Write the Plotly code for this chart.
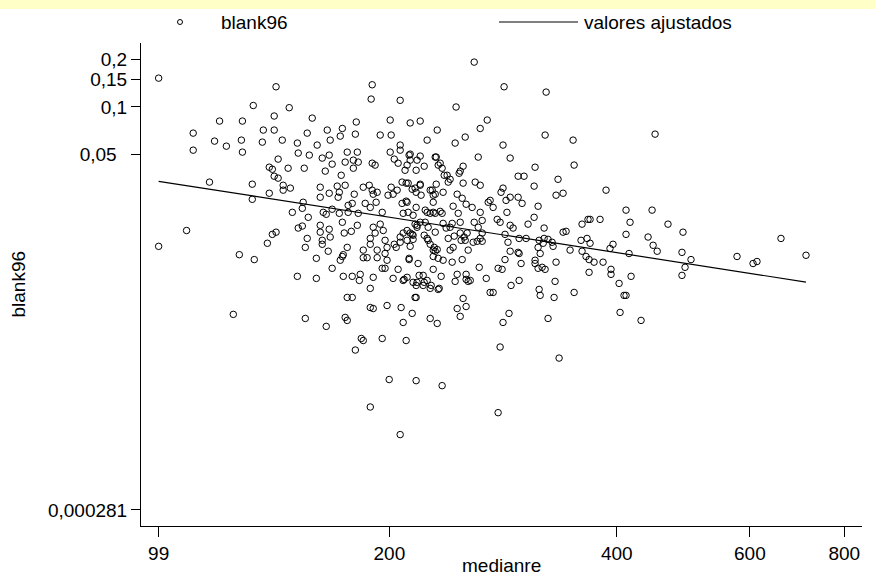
import plotly.graph_objects as go

# ---------------- data ----------------
# upper part of the cloud
medianre_a = [99.0, 259.0, 283.7, 322.5, 189.8, 141.6, 132.1, 147.4, 140.8, 140.8, 158.1, 119.2,
              127.8, 110.0, 117.4, 121.7, 127.4, 144.3, 151.1, 165.5, 172.2, 180.3, 194.5, 201.1,
              219.7, 231.4, 206.7, 244.4, 252.0, 269.5, 245.1, 189.2, 213.1, 224.4, 173.3, 167.0,
              155.7, 135.8, 321.5, 350.1, 449.5, 282.8, 263.8, 206.7, 180.8, 200.5, 160.5, 136.2]
blank96_a = [0.152, 0.192, 0.134, 0.124, 0.138, 0.134, 0.102, 0.0988, 0.0875, 0.0713, 0.0849, 0.0813,
             0.0813, 0.0682, 0.0607, 0.0564, 0.0616, 0.0616, 0.0590, 0.0713, 0.0653, 0.0672, 0.0663, 0.0663,
             0.0813, 0.0713, 0.0573, 0.0590, 0.0644, 0.0825, 0.0998, 0.112, 0.0791, 0.0616, 0.0730, 0.0616,
             0.0682, 0.0598, 0.0663, 0.0616, 0.0672, 0.0573, 0.0730, 0.110, 0.0802, 0.0825, 0.0573, 0.0713]

# left-centre, above the fitted line
medianre_b = [110.0, 127.8, 142.5, 151.5, 156.7, 163.0, 166.5, 168.0, 175.9, 181.4, 174.8, 179.2, 181.9,
              179.2, 189.8, 191.5, 200.5, 203.0, 206.7, 205.4, 212.4, 211.1, 217.6, 219.7, 230.0, 232.1,
              138.7, 140.0, 146.9, 154.3, 164.5, 172.7, 140.8, 142.5, 144.7, 144.7, 147.9, 131.7, 138.7,
              131.7, 115.6,
              162.0, 166.5, 170.6, 171.7, 174.8, 179.7, 171.1, 162.0, 153.8, 148.8, 153.4, 156.2, 163.5,
              165.0, 168.0, 171.7, 173.3, 176.4, 178.6, 176.4, 181.9,
              184.7, 188.1, 189.8, 192.7, 190.4, 185.8, 188.7, 192.1, 195.7, 199.2, 201.1, 202.3, 204.8,
              207.9, 211.8, 207.9, 211.8, 210.5, 214.4, 217.0, 219.7, 220.3, 226.5, 228.6, 230.7, 226.5,
              228.6, 215.0, 217.6, 219.7, 223.1, 225.1]
blank96_b = [0.0532, 0.0517, 0.0467, 0.0510, 0.0495, 0.0474, 0.0495, 0.0434, 0.0517, 0.0517, 0.0447, 0.0460, 0.0447,
             0.0409, 0.0440, 0.0428, 0.0517, 0.0467, 0.0532, 0.0440, 0.0495, 0.0428, 0.0460, 0.0488, 0.0481, 0.0428,
             0.0415, 0.0403, 0.0409, 0.0409, 0.0392, 0.0369, 0.0364, 0.0354, 0.0319, 0.0297, 0.0306, 0.0324, 0.0284,
             0.0260, 0.0334,
             0.0310, 0.0284, 0.0315, 0.0288, 0.0319, 0.0280, 0.0268, 0.0268, 0.0249, 0.0215, 0.0228, 0.0200, 0.0215,
             0.0209, 0.0225, 0.0212, 0.0186, 0.0238, 0.0245, 0.0215, 0.0212,
             0.0310, 0.0319, 0.0297, 0.0288, 0.0280, 0.0245, 0.0231, 0.0249, 0.0215, 0.0276, 0.0310, 0.0280, 0.0297,
             0.0334, 0.0329, 0.0245, 0.0215, 0.0253, 0.0301, 0.0288, 0.0324, 0.0276, 0.0297, 0.0276, 0.0324, 0.0212,
             0.0215, 0.0206, 0.0178, 0.0186, 0.0186, 0.0173]

# left-centre, below the fitted line
medianre_c = [107.8, 99.0, 126.6, 132.5, 137.9, 140.0, 141.6, 151.5, 153.4, 155.7, 154.8, 162.0, 162.0,
              163.0, 163.0, 166.5, 167.0, 166.0, 160.1, 168.0, 172.2, 173.3, 173.8, 175.9, 174.3, 178.1,
              181.4, 184.7, 184.7, 186.9, 188.7, 188.7, 191.5, 192.7, 192.7, 190.4, 194.5, 196.3, 197.4,
              198.6, 197.4, 198.6, 195.7, 197.4, 190.4, 183.0, 178.6, 173.8, 182.5, 188.7, 175.9, 151.1, 160.1]
blank96_c = [0.0165, 0.0131, 0.0116, 0.0108, 0.0137, 0.0156, 0.0161, 0.0171, 0.0176, 0.0147, 0.0129, 0.0178, 0.0161,
             0.0143, 0.0135, 0.0168, 0.0150, 0.0122, 0.0110, 0.00951, 0.0107, 0.0113, 0.0116, 0.0129, 0.0159, 0.0163,
             0.0178, 0.0124, 0.0111, 0.0111, 0.0147, 0.0135, 0.0159, 0.0124, 0.0111, 0.0173, 0.0181, 0.0165, 0.0143,
             0.0129, 0.0118, 0.0107, 0.00951, 0.00951, 0.00834, 0.00871, 0.00846, 0.00846, 0.00797, 0.00710, 0.00622,
             0.00846, 0.00821]

medianre_d = [203.0, 204.2, 206.7, 208.6, 206.7, 213.1, 215.0, 212.4, 218.3, 222.4, 225.1, 226.5, 229.3, 231.4,
              228.6, 232.1, 202.3, 205.4, 211.1, 208.6, 217.6, 221.7, 224.4, 221.7, 227.2, 228.6, 216.3, 232.1]
blank96_d = [0.0135, 0.0129, 0.0150, 0.0159, 0.0139, 0.0159, 0.0154, 0.0108, 0.0102, 0.0154, 0.0143, 0.0135, 0.0129,
             0.0125, 0.0113, 0.0110, 0.00821, 0.00937, 0.00834, 0.00797, 0.00775, 0.00858, 0.00797, 0.00741, 0.00741,
             0.00937, 0.00622, 0.00699]

# right-hand tail
medianre_e = [659.7, 712.0, 577.0, 605.9, 613.2, 501.5, 489.4, 487.9, 492.5, 487.9, 467.5, 445.4, 452.4, 446.8,
              440.0, 416.5, 411.4, 411.4, 415.2, 417.8, 411.4, 402.8, 393.0, 393.0, 395.4, 391.8, 387.1, 380.1,
              368.7, 366.4, 359.8, 365.3, 368.7, 358.7, 359.8, 364.2, 367.6, 373.2, 383.6, 367.6]
blank96_e = [0.0147, 0.0115, 0.0113, 0.0102, 0.0105, 0.0108, 0.0161, 0.0120, 0.00965, 0.00858, 0.0181, 0.0222, 0.0122,
             0.0133, 0.0150, 0.0186, 0.0222, 0.0156, 0.0118, 0.00846, 0.00641, 0.00763, 0.00937, 0.00871, 0.0135,
             0.0127, 0.0297, 0.0194, 0.0194, 0.0194, 0.0181, 0.0147, 0.0137, 0.0143, 0.0122, 0.0113, 0.0108, 0.0104,
             0.0104, 0.00897]

medianre_f = [351.2, 334.4, 332.4, 339.6, 339.6, 342.7, 346.9, 351.2, 330.4, 331.4, 332.4, 329.4, 328.4, 324.4,
              320.5, 319.6, 315.7, 314.7, 316.7, 320.5, 310.9, 305.2, 314.7, 310.9, 311.8, 289.0, 301.5, 296.1,
              296.1, 299.7, 289.0, 291.6, 297.0, 303.4, 289.0, 296.1, 297.0, 298.8, 284.5, 287.1, 284.5, 277.8,
              280.3, 281.1, 282.8, 285.4, 289.0, 286.2, 311.8, 311.8, 314.7, 318.6, 321.5, 315.7, 297.0, 289.8,
              278.6, 282.0, 271.9, 274.4, 268.7, 263.0]
blank96_f = [0.0428, 0.0348, 0.0276, 0.0284, 0.0161, 0.0163, 0.0124, 0.00669, 0.00622, 0.00786, 0.0104, 0.0131,
             0.0139, 0.0145, 0.0147, 0.0137, 0.0143, 0.0129, 0.0118, 0.0171, 0.0200, 0.0181, 0.0235, 0.0315, 0.0415,
             0.0474, 0.0364, 0.0364, 0.0268, 0.0245, 0.0178, 0.0171, 0.0147, 0.0147, 0.0122, 0.0120, 0.0118, 0.0102,
             0.0108, 0.0139, 0.0156, 0.0194, 0.0186, 0.0288, 0.0306, 0.0256, 0.0268, 0.0215, 0.0107, 0.0102, 0.00951,
             0.00965, 0.00937, 0.00699, 0.00797, 0.00741, 0.00951, 0.00937, 0.00669, 0.00669, 0.00821, 0.00965]

medianre_g = [254.3, 252.7, 255.9, 252.7, 245.9, 244.4, 249.7, 242.2, 235.6, 234.2, 232.8, 226.5, 219.0, 222.4,
              217.0, 217.0, 250.4, 240.7, 242.9, 239.3, 243.7, 248.9, 251.2, 254.3, 265.4, 263.8, 262.2, 259.0,
              257.4, 252.7, 249.7, 245.9, 242.9, 246.7, 248.2, 242.2, 240.7, 235.6, 237.8, 233.5, 234.9, 230.0,
              228.6, 217.0, 211.1]
blank96_g = [0.00786, 0.00809, 0.00797, 0.00871, 0.00871, 0.00786, 0.0108, 0.0104, 0.0107, 0.00846, 0.00710, 0.00710,
             0.00858, 0.00775, 0.00741, 0.00622, 0.00613, 0.0124, 0.0129, 0.0147, 0.0152, 0.0143, 0.0150, 0.0124,
             0.0159, 0.0147, 0.0173, 0.0186, 0.0231, 0.0242, 0.0264, 0.0280, 0.0235, 0.0212, 0.0186, 0.0183, 0.0173,
             0.0183, 0.0171, 0.0218, 0.0212, 0.0212, 0.0249, 0.0231, 0.0249]

medianre_h = [235.6, 227.9, 230.0, 239.3, 240.7, 238.5, 236.4, 234.9, 233.5, 230.7, 222.4, 217.0, 213.1, 213.1,
              250.4, 248.2, 247.4, 250.4, 262.2, 259.8, 263.8, 263.8, 265.4, 270.3, 271.9, 274.4, 261.4, 265.4,
              258.2, 253.5, 252.0, 248.2, 230.0, 224.4, 228.6, 230.0, 213.1, 211.1, 212.4, 209.2, 215.0, 224.4,
              219.7, 216.3, 210.5, 209.8, 223.1, 216.3, 217.6, 214.4, 211.1, 215.0, 208.6]
blank96_h = [0.0288, 0.0297, 0.0280, 0.0334, 0.0348, 0.0369, 0.0369, 0.0409, 0.0440, 0.0481, 0.0421, 0.0397, 0.0460,
             0.0502, 0.0421, 0.0392, 0.0380, 0.0329, 0.0481, 0.0334, 0.0319, 0.0215, 0.0191, 0.0249, 0.0256, 0.0231,
             0.0141, 0.0141, 0.0139, 0.0159, 0.0143, 0.0159, 0.0161, 0.0147, 0.0124, 0.0122, 0.0131, 0.0165, 0.0110,
             0.00809, 0.00775, 0.0215, 0.0319, 0.0306, 0.0329, 0.0397, 0.0222, 0.0181, 0.0173, 0.0156, 0.0143, 0.0145,
             0.0212]

# lower part of the cloud
medianre_i = [124.3, 174.8, 175.9, 165.0, 195.7, 183.6, 184.7, 180.3, 188.7, 207.3, 210.5, 226.5, 231.4, 245.9,
              248.2, 280.3, 282.8, 288.0, 324.4, 335.5, 316.7, 214.4, 198.6, 199.9, 217.0, 234.9, 188.7, 278.6,
              206.7, 404.0, 408.9, 430.7, 190.4, 208.6, 178.6, 252.7, 154.8]
blank96_i = [0.00486, 0.00465, 0.00445, 0.00408, 0.00342, 0.00342, 0.00332, 0.00289, 0.00537, 0.00537, 0.00332,
             0.00458, 0.00426, 0.00529, 0.00472, 0.00302, 0.00432, 0.00493, 0.00458, 0.00257, 0.00641, 0.00493,
             0.00553, 0.00188, 0.00185, 0.00172, 0.00126, 0.00116, 0.000843, 0.00500, 0.00641, 0.00445, 0.00529,
             0.00432, 0.00622, 0.00545, 0.00458]

# fitted values (valores ajustados), read at the two ends of the line
fit_medianre = [99.0, 712.0]
fit_blank96 = [0.0338, 0.00778]

# tick labels
x_tickvals = [99, 200, 400, 600, 800]
x_ticktext = ["99", "200", "400", "600", "800"]
y_tickvals = [0.000281, 0.05, 0.1, 0.15, 0.2]
y_ticktext = ["0,000281", "0,05\u00a0\u00a0", "0,1", "0,15", "0,2"]

medianre = (medianre_a + medianre_b + medianre_c + medianre_d + medianre_e +
            medianre_f + medianre_g + medianre_h + medianre_i)
blank96 = (blank96_a + blank96_b + blank96_c + blank96_d + blank96_e +
           blank96_f + blank96_g + blank96_h + blank96_i)

# ---------------- figure ----------------
W, H = 875, 578
L, R, T, B = 141, 13, 43, 52
pw, ph = W - L - R, H - T - B


def px(xp):
    return (xp - L) / pw


def py(yp):
    return (H - B - yp) / ph


FONT = "Liberation Sans, Arial, Helvetica, sans-serif"

fig = go.Figure()
fig.add_trace(go.Scatter(
    x=medianre, y=blank96, mode="markers", name="blank96",
    marker=dict(symbol="circle-open", size=6.5, color="black", line=dict(width=1, color="black")),
    showlegend=False,
))
fig.add_trace(go.Scatter(
    x=fit_medianre, y=fit_blank96, mode="lines", name="valores ajustados",
    line=dict(color="black", width=1.2), showlegend=False,
))

fig.update_layout(
    width=W, height=H,
    margin=dict(l=L, r=R, t=T, b=B, pad=0, autoexpand=False),
    paper_bgcolor="white", plot_bgcolor="white",
    font=dict(family=FONT, size=19, color="black"),
    xaxis=dict(type="log", range=[1.9723, 2.9266], showgrid=False, zeroline=False, automargin=False,
               showline=True, linecolor="black", linewidth=1, mirror=False,
               ticks="outside", ticklen=10, tickwidth=1, tickcolor="black",
               tickmode="array", tickvals=x_tickvals, ticktext=x_ticktext,
               tickfont=dict(family=FONT, size=19)),
    yaxis=dict(type="log", range=[-3.6528, -0.5958], showgrid=False, zeroline=False, automargin=False,
               showline=True, linecolor="black", linewidth=1, mirror=False,
               ticks="outside", ticklen=9, tickwidth=1, tickcolor="black",
               tickmode="array", tickvals=y_tickvals, ticktext=y_ticktext,
               tickfont=dict(family=FONT, size=19)),
    showlegend=False,
)

shapes = [
    # pale yellow band at the very top
    dict(type="rect", xref="paper", yref="paper", x0=px(0), x1=px(W), y0=py(9), y1=py(0),
         fillcolor="#FFFFC8", line=dict(width=0), layer="below"),
    # legend symbols
    dict(type="circle", xref="paper", yref="paper", xsizemode="pixel", ysizemode="pixel",
         xanchor=px(180), yanchor=py(22), x0=-2.5, x1=2.5, y0=-2.5, y1=2.5,
         line=dict(color="black", width=1), fillcolor="rgba(0,0,0,0)"),
    dict(type="line", xref="paper", yref="paper", x0=px(499), x1=px(578), y0=py(22), y1=py(22),
         line=dict(color="black", width=1)),
]
annotations = [
    dict(text="blank96", xref="paper", yref="paper", x=px(219), y=py(22), xanchor="left", yanchor="middle",
         showarrow=False, font=dict(family=FONT, size=19)),
    dict(text="valores ajustados", xref="paper", yref="paper", x=px(582), y=py(22), xanchor="left",
         yanchor="middle", showarrow=False, font=dict(family=FONT, size=19)),
    dict(text="medianre", xref="paper", yref="paper", x=0.5, y=py(565), xanchor="center", yanchor="middle",
         showarrow=False, font=dict(family=FONT, size=19)),
    dict(text="blank96", xref="paper", yref="paper", x=px(18), y=0.5, xanchor="center", yanchor="middle",
         textangle=-90, showarrow=False, font=dict(family=FONT, size=19)),
]
fig.update_layout(shapes=shapes, annotations=annotations)

fig.write_html("out.html", config={"displayModeBar": False},
               post_script="document.body.style.margin='0';document.body.style.overflow='hidden';")
